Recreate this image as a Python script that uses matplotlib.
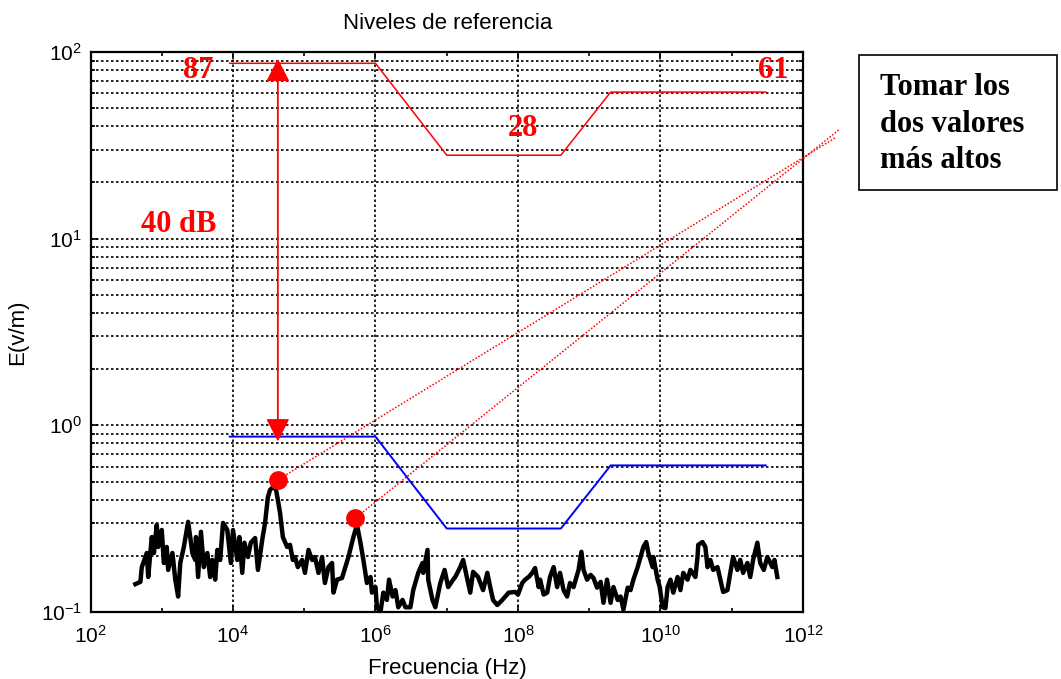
import matplotlib
matplotlib.use("Agg")
import matplotlib.pyplot as plt
import numpy as np
from matplotlib.patches import Rectangle
from matplotlib.ticker import NullFormatter

plt.rcParams["font.family"] = ["Liberation Sans", "DejaVu Sans"]
plt.rcParams["mathtext.fontset"] = "custom"
plt.rcParams["mathtext.rm"] = "Liberation Sans"
plt.rcParams["axes.unicode_minus"] = False

# reference levels (Hz, V/m)
ref_freq = [9e3, 1e6, 1e7, 4e8, 2e9, 3e11]
ref_high = [87, 87, 28, 28, 61, 61]
ref_low = [0.87, 0.87, 0.28, 0.28, 0.61, 0.61]

# measured field, frequency as log10(Hz)
meas_fexp = [
    2.63, 2.70, 2.72, 2.79, 2.81, 2.86, 2.89, 2.93, 2.95, 3.00, 3.03, 3.07, 3.09, 3.15,
    3.19, 3.23, 3.26, 3.31, 3.37, 3.43, 3.47, 3.48, 3.51, 3.55, 3.59, 3.64, 3.68, 3.71,
    3.75, 3.78, 3.82, 3.86, 3.92, 3.97, 4.00, 4.06, 4.09, 4.13, 4.16, 4.21, 4.25, 4.31,
    4.35, 4.41, 4.45, 4.49, 4.52, 4.55, 4.60, 4.63, 4.66, 4.70, 4.76, 4.80, 4.84,
    4.87, 4.91, 4.97, 5.01, 5.06, 5.11, 5.15, 5.20, 5.25, 5.29, 5.34, 5.39, 5.41, 5.46,
    5.53, 5.62, 5.69, 5.74, 5.79, 5.83, 5.88, 5.93, 5.95, 6.00, 6.02, 6.07, 6.11, 6.16,
    6.19, 6.24, 6.28, 6.32, 6.38, 6.42, 6.49, 6.53, 6.60, 6.66, 6.67, 6.73, 6.74, 6.80,
    6.84, 6.91, 6.97, 7.02, 7.09,
    7.12, 7.19, 7.23, 7.29, 7.33, 7.37, 7.44, 7.51, 7.57, 7.61, 7.65, 7.71, 7.78, 7.87,
    7.96, 8.00, 8.06, 8.10, 8.15, 8.20, 8.24, 8.29, 8.31, 8.36, 8.41, 8.45, 8.50, 8.55,
    8.59, 8.64, 8.69, 8.73, 8.78, 8.85, 8.89, 8.92, 8.97, 9.02, 9.06, 9.11, 9.16, 9.20,
    9.25, 9.30, 9.34, 9.40, 9.44, 9.48,
    9.54, 9.58, 9.62, 9.68, 9.72, 9.76, 9.80, 9.83, 9.89, 9.90, 9.96, 9.99, 10.03, 10.07,
    10.10, 10.14, 10.18, 10.24, 10.28, 10.32, 10.38, 10.42, 10.49, 10.52, 10.53, 10.59,
    10.63, 10.66, 10.70, 10.74, 10.80, 10.84, 10.88, 10.94, 10.98, 11.02, 11.08, 11.12,
    11.16, 11.22, 11.26, 11.30, 11.36, 11.40, 11.45, 11.50, 11.57, 11.60, 11.64,
]
meas_e = [
    0.141, 0.145, 0.174, 0.207, 0.154, 0.252, 0.207, 0.293, 0.223, 0.275, 0.183, 0.223, 0.168, 0.207,
    0.149, 0.121, 0.183, 0.223, 0.304, 0.207, 0.190, 0.252, 0.154, 0.269, 0.174, 0.207, 0.154, 0.190,
    0.149, 0.215, 0.190, 0.300, 0.275, 0.183, 0.275, 0.190, 0.252, 0.162, 0.235, 0.197, 0.235, 0.249,
    0.168, 0.243, 0.300, 0.413, 0.451, 0.462, 0.460, 0.398, 0.340, 0.252, 0.223, 0.229, 0.190,
    0.197, 0.174, 0.190, 0.162, 0.215, 0.190, 0.197, 0.162, 0.197, 0.143, 0.174, 0.183, 0.127, 0.149,
    0.152, 0.197, 0.252, 0.293, 0.234, 0.190, 0.143, 0.154, 0.127, 0.136, 0.106, 0.100, 0.127, 0.116,
    0.149, 0.121, 0.131, 0.106, 0.116, 0.106, 0.106, 0.131, 0.162, 0.183, 0.162, 0.215, 0.149, 0.116,
    0.106, 0.143, 0.168, 0.136, 0.149,
    0.154, 0.174, 0.190, 0.149, 0.127, 0.164, 0.154, 0.131, 0.162, 0.136, 0.116, 0.109, 0.116, 0.127,
    0.128, 0.124, 0.143, 0.149, 0.154, 0.162, 0.172, 0.136, 0.149, 0.124, 0.127, 0.154, 0.174, 0.136,
    0.162, 0.131, 0.121, 0.143, 0.136, 0.168, 0.210, 0.168, 0.149, 0.158, 0.152, 0.135, 0.145, 0.112,
    0.149, 0.112, 0.136, 0.116, 0.121, 0.103,
    0.135, 0.131, 0.149, 0.174, 0.197, 0.223, 0.237, 0.207, 0.174, 0.197, 0.149, 0.136, 0.106, 0.105,
    0.136, 0.149, 0.127, 0.154, 0.131, 0.162, 0.149, 0.168, 0.154, 0.197, 0.229, 0.237,
    0.223, 0.174, 0.190, 0.168, 0.174, 0.149, 0.128, 0.131, 0.162, 0.197, 0.168, 0.190,
    0.162, 0.183, 0.154, 0.190, 0.235, 0.183, 0.168, 0.197, 0.174, 0.190, 0.154,
]

# two highest peaks and where the pointer lines end
peak_freq = [4.26e4, 5.19e5]
peak_e = [0.51, 0.318]
pointer_freq = [2.95e12, 3.17e12]
pointer_e = [35.0, 38.2]

arrow_freq = 4.26e4
arrow_span = [0.82, 92.0]

x_major = [1e2, 1e4, 1e6, 1e8, 1e10, 1e12]
x_minor = [1e3, 1e5, 1e7, 1e9, 1e11]

fig = plt.figure(figsize=(10.61, 6.79), dpi=100)
ax = fig.add_axes([0.0853, 0.0987, 0.6715, 0.8247])

ax.set_xscale("log")
ax.set_yscale("log")
ax.set_xlim(1e2, 1e12)
ax.set_ylim(1e-1, 1e2)

ax.plot(10 ** np.array(meas_fexp), meas_e, color="black", lw=3.2, solid_joinstyle="round", zorder=3)
ax.plot(ref_freq, ref_high, color="#ff0000", lw=1.1, zorder=3)
ax.plot(ref_freq, ref_low, color="#0000ff", lw=1.4, zorder=3)

for f0, e0, f1, e1 in zip(peak_freq, peak_e, pointer_freq, pointer_e):
    ax.plot([f0, f1], [e0, e1], color="#ff0000", lw=1.1, linestyle=(0, (1, 1.2)),
            clip_on=False, zorder=4)
ax.plot(peak_freq, peak_e, "o", color="#ff0000", ms=12.5, zorder=5, clip_on=False)

ax.annotate("", xy=(arrow_freq, arrow_span[1]), xytext=(arrow_freq, arrow_span[0]),
            arrowprops=dict(arrowstyle="<|-|>,head_length=0.7,head_width=0.36",
                            mutation_scale=20, color="#ff0000", lw=1.3,
                            shrinkA=0, shrinkB=0), zorder=5)

ax.set_xticks(x_major)
ax.set_xticks(x_minor, minor=True)
ax.xaxis.set_minor_formatter(NullFormatter())
ax.yaxis.set_minor_formatter(NullFormatter())

grid_kw = dict(color="black", linestyle=(0, (1.5, 1.5)), linewidth=1.2)
ax.grid(True, which="major", axis="x", **grid_kw)
ax.grid(True, which="both", axis="y", **grid_kw)
ax.set_axisbelow(True)

ax.tick_params(which="both", direction="in", top=True, right=True, width=1.2, labelsize=15)
ax.tick_params(axis="x", pad=9)
ax.tick_params(axis="y", pad=6)
ax.tick_params(which="major", length=5)
ax.tick_params(which="minor", length=3)
for s in ax.spines.values():
    s.set_linewidth(1.6)

fig.text(0.4221, 0.957, "Niveles de referencia", ha="center", va="baseline", fontsize=16)
fig.text(0.4221, 0.008, "Frecuencia (Hz)", ha="center", va="baseline", fontsize=16)
fig.text(0.017, 0.511, "E(v/m)", ha="center", va="center", rotation=90, fontsize=16)

lbl_kw = dict(color="#ff0000", fontsize=22, fontweight="bold", family="Liberation Serif", va="baseline")
fig.text(0.2008, 0.8851, "87", ha="right", **lbl_kw)
fig.text(0.7144, 0.8851, "61", ha="left", **lbl_kw)
fig.text(0.4788, 0.7997, "28", ha="left", **lbl_kw)
fig.text(0.1329, 0.6583, "40 dB", ha="left", **lbl_kw)

fig.patches.append(Rectangle((0.8096, 0.7202), 0.1866, 0.1988, transform=fig.transFigure,
                             fill=False, edgecolor="black", lw=1.2))
box_kw = dict(color="black", fontsize=22, fontweight="bold", family="Liberation Serif",
              ha="left", va="baseline")
fig.text(0.8294, 0.8601, "Tomar los", **box_kw)
fig.text(0.8294, 0.8056, "dos valores", **box_kw)
fig.text(0.8294, 0.7526, "más altos", **box_kw)

fig.savefig("out.png", dpi=100)
